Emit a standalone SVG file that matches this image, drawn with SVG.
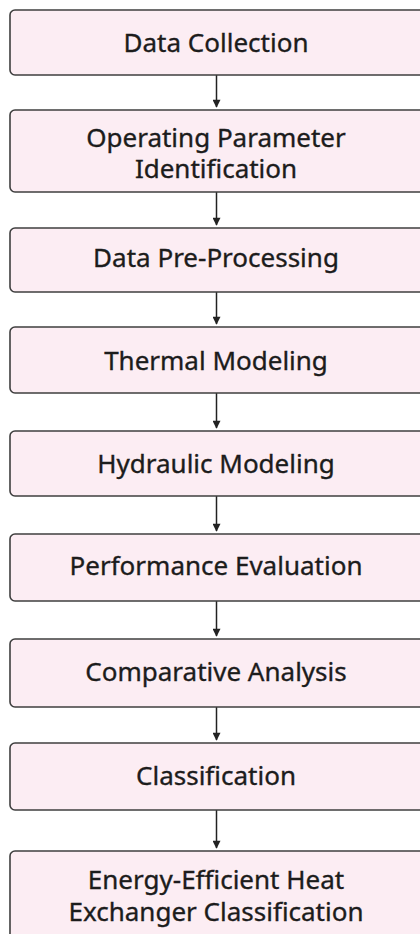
<svg xmlns="http://www.w3.org/2000/svg" width="420" height="934" viewBox="0 0 420 934">
<style>
.box{fill:#fcedf3;stroke:#3f3f3f;stroke-width:1.6}
.lbl{font-family:"Noto Sans","Open Sans","DejaVu Sans",sans-serif;font-size:26px;fill:#1c1c1c;stroke:#1c1c1c;stroke-width:0.35;text-anchor:middle}
.conn{stroke:#222;stroke-width:1.5;fill:none;marker-end:url(#ah)}
</style>
<defs>
<marker id="ah" viewBox="0 0 10 10" refX="9" refY="5" markerWidth="9" markerHeight="8" markerUnits="userSpaceOnUse" orient="auto">
<path d="M0,0 L10,5 L0,10 z" fill="#222"/>
</marker>
</defs>
<g id="connectors">
<line class="conn" x1="216.5" y1="75" x2="216.5" y2="107"/>
<line class="conn" x1="216.5" y1="192" x2="216.5" y2="225"/>
<line class="conn" x1="216.5" y1="292" x2="216.5" y2="324"/>
<line class="conn" x1="216.5" y1="393" x2="216.5" y2="428"/>
<line class="conn" x1="216.5" y1="496" x2="216.5" y2="531"/>
<line class="conn" x1="216.5" y1="601" x2="216.5" y2="636"/>
<line class="conn" x1="216.5" y1="707" x2="216.5" y2="740"/>
<line class="conn" x1="216.5" y1="810" x2="216.5" y2="848"/>
</g>
<g id="n1"><rect class="box" x="10" y="10" width="420" height="65" rx="5"/><text class="lbl" x="216" y="52">Data Collection</text></g>
<g id="n2"><rect class="box" x="10" y="110" width="420" height="82" rx="5"/><text class="lbl" x="216" y="147">Operating Parameter<tspan x="216" dy="30.5">Identification</tspan></text></g>
<g id="n3"><rect class="box" x="10" y="228" width="420" height="64" rx="5"/><text class="lbl" x="216" y="267">Data Pre-Processing</text></g>
<g id="n4"><rect class="box" x="10" y="327" width="420" height="66" rx="5"/><text class="lbl" x="216" y="369.5">Thermal Modeling</text></g>
<g id="n5"><rect class="box" x="10" y="431" width="420" height="65" rx="5"/><text class="lbl" x="216" y="473">Hydraulic Modeling</text></g>
<g id="n6"><rect class="box" x="10" y="534" width="420" height="67" rx="5"/><text class="lbl" x="216" y="574.5">Performance Evaluation</text></g>
<g id="n7"><rect class="box" x="10" y="639" width="420" height="68" rx="5"/><text class="lbl" x="216" y="680.5">Comparative Analysis</text></g>
<g id="n8"><rect class="box" x="10" y="743" width="420" height="67" rx="5"/><text class="lbl" x="216" y="784.5">Classification</text></g>
<g id="n9"><rect class="box" x="10" y="851" width="420" height="100" rx="5"/><text class="lbl" x="216" y="888.5">Energy-Efficient Heat<tspan x="216" dy="32">Exchanger Classification</tspan></text></g>
</svg>
